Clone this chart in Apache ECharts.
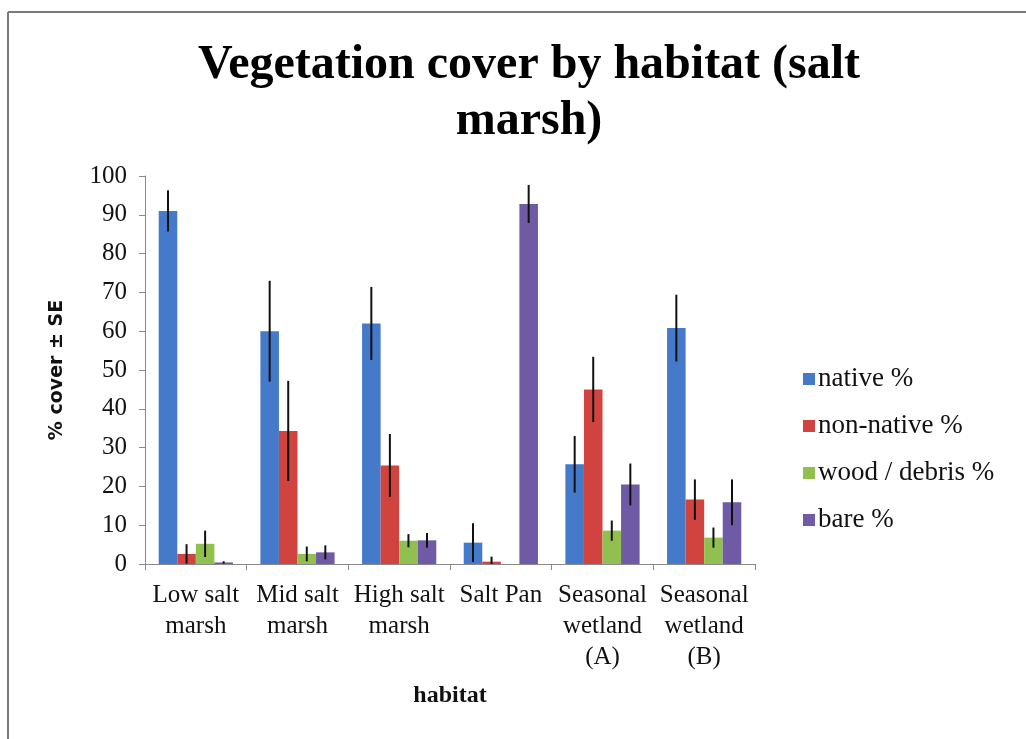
<!DOCTYPE html>
<html>
<head>
<meta charset="utf-8">
<script src="https://cdn.jsdelivr.net/npm/echarts@6/dist/echarts.min.js"></script>
<style>
  html, body { margin: 0; padding: 0; background: #fff; }
  #chart { width: 1026px; height: 739px; }
</style>
</head>
<body>
<div id="chart"></div>
<script>
const habitats = ['Low salt\nmarsh', 'Mid salt\nmarsh', 'High salt\nmarsh', 'Salt Pan', 'Seasonal\nwetland\n(A)', 'Seasonal\nwetland\n(B)']
const seriesNames = ['native %', 'non-native %', 'wood / debris %', 'bare %']

// mean % cover per habitat
const nativeVals = [91, 60, 62, 5.5, 25.7, 60.8]
const nonNativeVals = [2.6, 34.3, 25.4, 0.6, 45, 16.6]
const woodVals = [5.2, 2.6, 6, 0, 8.6, 6.8]
const bareVals = [0.4, 3, 6.1, 92.8, 20.5, 15.9]

// standard errors
const nativeSE = [5.3, 13, 9.4, 5, 7.3, 8.6]
const nonNativeSE = [2.5, 12.9, 8.1, 1.3, 8.4, 5.2]
const woodSE = [3.4, 1.9, 1.7, 0, 2.6, 2.6]
const bareSE = [0.3, 1.8, 1.9, 4.9, 5.4, 5.9]

const yTicks = [0, 10, 20, 30, 40, 50, 60, 70, 80, 90, 100]

const means = [nativeVals, nonNativeVals, woodVals, bareVals]
const ses = [nativeSE, nonNativeSE, woodSE, bareSE]
const colors = ['#4579c9', '#d0433f', '#92c050', '#6f5aa6']
const catGap = 0.27

const errData = []
means.forEach((arr, s) => {
  arr.forEach((v, i) => {
    if (ses[s][i] > 0) errData.push([i, v, ses[s][i], s])
  })
})

const chart = echarts.init(document.getElementById('chart'))

const option = {
  backgroundColor: '#fff',
  color: colors,
  animation: false,
  title: {
    text: 'Vegetation cover by habitat (salt\nmarsh)',
    left: 524,
    textAlign: 'center',
    top: 33,
    textStyle: {
      fontFamily: 'Liberation Serif',
      fontWeight: 'bold',
      fontSize: 48,
      lineHeight: 56,
      color: '#000',
    },
  },
  graphic: [
    { type: 'line', shape: { x1: 8, y1: 12, x2: 1026, y2: 12 }, style: { stroke: '#7a7a7a', lineWidth: 2 } },
    { type: 'line', shape: { x1: 8, y1: 12, x2: 8, y2: 739 }, style: { stroke: '#7a7a7a', lineWidth: 2 } },
  ],
  legend: {
    orient: 'vertical',
    left: 798,
    top: 359,
    itemWidth: 12,
    itemHeight: 12,
    itemGap: 17,
    icon: 'rect',
    data: seriesNames,
    textStyle: {
      fontFamily: 'Liberation Serif',
      fontSize: 27,
      lineHeight: 30,
      color: '#111',
      padding: [0, 0, 0, -2],
    },
  },
  grid: {
    left: 145,
    right: 271,
    top: 176,
    bottom: 175,
  },
  xAxis: {
    type: 'category',
    data: habitats,
    name: 'habitat',
    nameLocation: 'middle',
    nameGap: 120,
    nameTextStyle: {
      fontFamily: 'Liberation Serif',
      fontWeight: 'bold',
      fontSize: 24,
      color: '#111',
    },
    axisLine: { lineStyle: { color: '#8a8a8a', width: 1 } },
    axisTick: { show: true, length: 6, lineStyle: { color: '#8a8a8a' } },
    axisLabel: {
      interval: 0,
      margin: 16,
      fontFamily: 'Liberation Serif',
      fontSize: 25,
      lineHeight: 31,
      color: '#111',
    },
  },
  yAxis: {
    type: 'value',
    min: 0,
    max: 100,
    interval: 10,
    name: '% cover ± SE',
    nameLocation: 'middle',
    nameGap: 78,
    nameRotate: 90,
    nameTextStyle: {
      fontFamily: 'DejaVu Sans',
      fontWeight: 'bold',
      fontSize: 19,
      color: '#111',
    },
    axisLine: { show: true, lineStyle: { color: '#8a8a8a', width: 1 } },
    axisTick: { show: true, length: 6, lineStyle: { color: '#8a8a8a' } },
    splitLine: { show: false },
    axisLabel: {
      margin: 18,
      fontFamily: 'Liberation Serif',
      fontSize: 25,
      color: '#111',
      formatter: (v) => (yTicks.includes(v) ? String(v) : ''),
    },
  },
  series: [
    ...means.map((arr, s) => ({
      name: seriesNames[s],
      type: 'bar',
      data: arr,
      barGap: '0%',
      barCategoryGap: (catGap * 100) + '%',
      itemStyle: { color: colors[s] },
    })),
    {
      name: 'SE',
      type: 'custom',
      data: errData,
      z: 10,
      silent: true,
      renderItem: (params, api) => {
        const cat = api.value(0)
        const v = api.value(1)
        const se = api.value(2)
        const s = api.value(3)
        const band = api.size([1, 0])[0]
        const bw = band * (1 - catGap) / 4
        const x = api.coord([cat, v])[0] + (s - 1.5) * bw
        const top = api.coord([cat, v + se])[1]
        const bottom = api.coord([cat, Math.max(0, v - se)])[1]
        return {
          type: 'line',
          shape: { x1: x, y1: top, x2: x, y2: bottom },
          style: { stroke: '#111', lineWidth: 2 },
        }
      },
    },
  ],
}

chart.setOption(option)
</script>
</body>
</html>
